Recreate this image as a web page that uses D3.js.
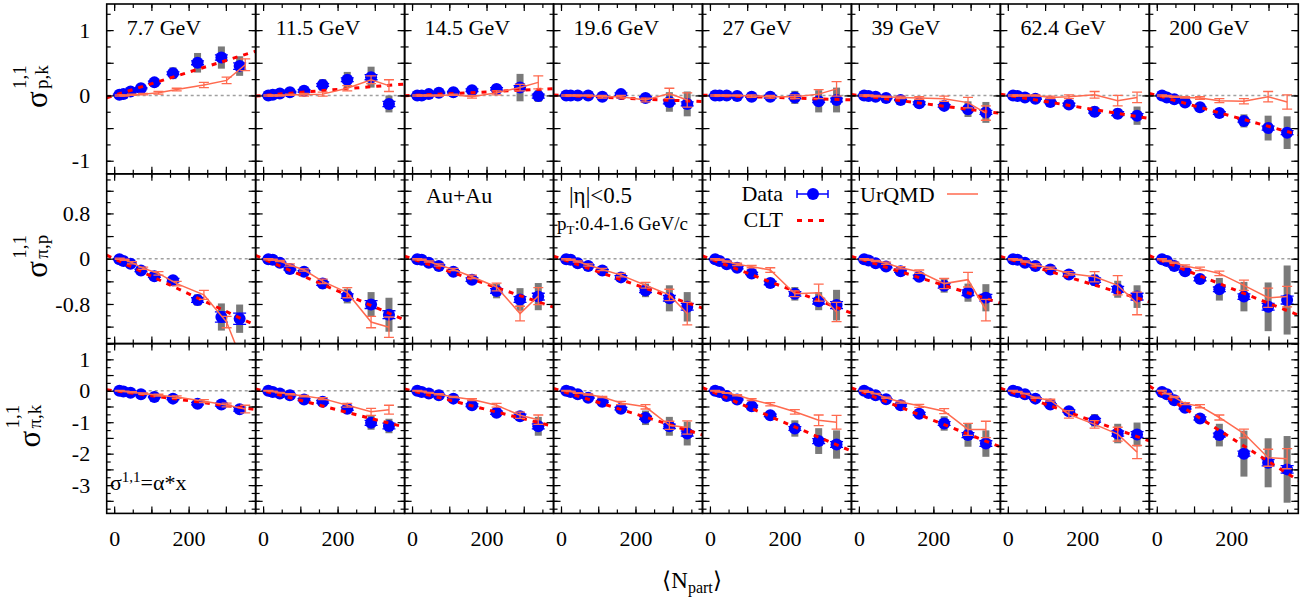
<!DOCTYPE html>
<html><head><meta charset="utf-8">
<script src="https://cdn.jsdelivr.net/npm/d3@7"></script>
<style>
html,body{margin:0;padding:0;background:#fff;}
svg{display:block;font-family:"Liberation Serif","Times New Roman",serif;}
</style></head><body><svg id="c" width="1316" height="605"></svg>
<script>
// ---------------- DATA ----------------
const energies = ["7.7 GeV","11.5 GeV","14.5 GeV","19.6 GeV","27 GeV","39 GeV","62.4 GeV","200 GeV"];
const npartData = [
  [14,25,44,72,108,158,224,288,337],
  [14,26,45,72,110,160,226,290,338],
  [14,26,45,72,111,161,227,290,339],
  [14,26,45,73,111,161,227,291,339],
  [14,26,45,73,112,162,228,292,340],
  [14,26,45,73,112,162,229,293,341],
  [14,26,46,74,114,164,233,295,347],
  [14,27,47,76,116,168,234,299,350]
];
const npartUrqmd = [
  [15,28,48,78,119,168,241,302,352],
  [14,26,45,72,110,160,226,290,338],
  [14,26,45,72,111,161,227,290,339],
  [14,26,45,73,111,161,227,291,339],
  [14,26,45,73,112,162,228,292,340],
  [14,26,45,73,112,162,229,293,341],
  [14,26,46,74,114,164,233,295,347],
  [14,27,47,76,116,168,234,299,350]
];

// sigma^{1,1}_{p,k}
const pkData = [
  [0.01,0.02,0.06,0.11,0.20,0.34,0.50,0.58,0.45],
  [0.00,0.01,0.03,0.05,0.07,0.16,0.24,0.28,-0.13],
  [0.00,0.00,0.02,0.04,0.05,0.08,0.10,0.12,-0.01],
  [0.00,0.00,0.00,0.00,-0.02,0.02,-0.04,-0.10,-0.13],
  [0.00,0.00,0.00,-0.01,-0.02,-0.02,-0.03,-0.09,-0.07],
  [0.00,-0.01,-0.02,-0.04,-0.07,-0.12,-0.16,-0.21,-0.26],
  [0.00,-0.01,-0.03,-0.05,-0.10,-0.14,-0.25,-0.28,-0.31],
  [0.00,-0.03,-0.06,-0.11,-0.18,-0.27,-0.39,-0.50,-0.57]
];
const pkStat = [
  [0.01,0.01,0.01,0.01,0.02,0.02,0.03,0.04,0.05],
  [0.01,0.01,0.01,0.01,0.02,0.02,0.03,0.04,0.04],
  [0.01,0.01,0.01,0.01,0.01,0.02,0.02,0.03,0.03],
  [0.01,0.01,0.01,0.01,0.01,0.02,0.02,0.03,0.03],
  [0.01,0.01,0.01,0.01,0.01,0.02,0.02,0.02,0.03],
  [0.01,0.01,0.01,0.01,0.01,0.02,0.02,0.02,0.03],
  [0.01,0.01,0.01,0.01,0.01,0.02,0.02,0.03,0.03],
  [0.01,0.01,0.01,0.01,0.01,0.02,0.02,0.03,0.03]
];
const pkSys = [
  [0.01,0.01,0.02,0.02,0.03,0.09,0.15,0.17,0.15],
  [0.01,0.01,0.01,0.02,0.03,0.09,0.12,0.16,0.13],
  [0.01,0.01,0.01,0.02,0.02,0.03,0.07,0.21,0.09],
  [0.01,0.01,0.01,0.01,0.02,0.02,0.04,0.15,0.19],
  [0.01,0.01,0.01,0.01,0.02,0.02,0.10,0.17,0.19],
  [0.01,0.01,0.01,0.01,0.02,0.03,0.06,0.12,0.16],
  [0.01,0.01,0.01,0.02,0.02,0.03,0.08,0.08,0.14],
  [0.01,0.01,0.01,0.02,0.03,0.04,0.10,0.19,0.25]
];
const pkAlpha = [0.00178,0.00046,0.00027,-0.00025,-0.00018,-0.00072,-0.00093,-0.00158];
const pkUrqmd = [
  [0.00,0.00,0.01,0.02,0.04,0.09,0.16,0.23,0.47],
  [0.00,0.00,0.00,0.01,0.01,0.02,0.11,0.24,0.15],
  [0.00,0.00,0.00,0.00,0.01,-0.02,0.04,0.12,0.20],
  [0.00,0.00,0.00,0.00,-0.02,-0.02,-0.07,0.03,-0.07],
  [0.00,0.00,0.00,0.00,-0.01,-0.02,-0.02,0.02,0.10],
  [0.00,0.00,-0.01,-0.02,-0.03,-0.04,-0.05,-0.11,-0.27],
  [0.00,0.00,0.00,0.00,-0.03,-0.02,0.01,-0.08,-0.03],
  [0.00,-0.01,-0.02,-0.03,-0.04,-0.08,-0.09,-0.02,-0.10]
];
const pkUrqmdErr = [
  [0.01,0.01,0.01,0.01,0.02,0.02,0.04,0.05,0.09],
  [0.01,0.01,0.01,0.01,0.02,0.03,0.04,0.06,0.09],
  [0.01,0.01,0.01,0.01,0.01,0.02,0.03,0.05,0.10],
  [0.01,0.01,0.01,0.01,0.02,0.02,0.03,0.08,0.11],
  [0.01,0.01,0.01,0.01,0.02,0.02,0.03,0.07,0.11],
  [0.01,0.01,0.01,0.01,0.02,0.02,0.04,0.08,0.11],
  [0.01,0.01,0.01,0.01,0.02,0.03,0.05,0.08,0.08],
  [0.01,0.01,0.01,0.01,0.02,0.03,0.04,0.08,0.11]
];

// sigma^{1,1}_{pi,p}
const pipData = [
  [-0.01,-0.04,-0.09,-0.21,-0.31,-0.38,-0.73,-1.03,-1.06],
  [-0.01,-0.02,-0.07,-0.18,-0.23,-0.44,-0.66,-0.81,-0.99],
  [-0.01,-0.02,-0.07,-0.13,-0.23,-0.37,-0.57,-0.72,-0.67],
  [-0.01,-0.02,-0.08,-0.13,-0.21,-0.33,-0.56,-0.70,-0.85],
  [-0.01,-0.04,-0.10,-0.16,-0.26,-0.43,-0.62,-0.75,-0.82],
  [-0.01,-0.03,-0.08,-0.14,-0.22,-0.32,-0.48,-0.60,-0.69],
  [-0.01,-0.02,-0.07,-0.13,-0.19,-0.28,-0.38,-0.54,-0.67],
  [-0.01,-0.04,-0.13,-0.22,-0.36,-0.54,-0.67,-0.85,-0.73]
];
const pipStat = [
  [0.01,0.01,0.01,0.02,0.02,0.03,0.04,0.09,0.10],
  [0.01,0.01,0.01,0.02,0.02,0.03,0.04,0.07,0.07],
  [0.01,0.01,0.01,0.02,0.02,0.03,0.04,0.05,0.06],
  [0.01,0.01,0.01,0.02,0.02,0.03,0.04,0.05,0.06],
  [0.01,0.01,0.01,0.02,0.02,0.03,0.04,0.05,0.06],
  [0.01,0.01,0.01,0.02,0.02,0.03,0.04,0.05,0.06],
  [0.01,0.01,0.01,0.02,0.02,0.03,0.04,0.05,0.06],
  [0.01,0.01,0.02,0.02,0.03,0.04,0.05,0.06,0.07]
];
const pipSys = [
  [0.01,0.01,0.02,0.02,0.03,0.04,0.10,0.24,0.25],
  [0.01,0.01,0.02,0.02,0.03,0.09,0.13,0.22,0.30],
  [0.01,0.01,0.02,0.02,0.03,0.08,0.13,0.20,0.24],
  [0.01,0.01,0.02,0.02,0.03,0.04,0.12,0.23,0.26],
  [0.01,0.01,0.02,0.02,0.03,0.04,0.12,0.16,0.27],
  [0.01,0.01,0.02,0.02,0.03,0.04,0.12,0.16,0.24],
  [0.01,0.01,0.02,0.02,0.03,0.04,0.10,0.15,0.20],
  [0.01,0.01,0.02,0.03,0.05,0.20,0.26,0.43,0.61]
];
const pipAlpha = [-0.0031,-0.00285,-0.00225,-0.0023,-0.00253,-0.00206,-0.0020,-0.00262];
const pipUrqmd = [
  [0.00,-0.02,-0.07,-0.17,-0.26,-0.44,-0.64,-1.12,-1.95],
  [-0.01,-0.02,-0.04,-0.11,-0.20,-0.40,-0.60,-1.12,-1.21],
  [-0.01,-0.02,-0.05,-0.11,-0.19,-0.32,-0.50,-0.97,-0.66],
  [-0.01,-0.02,-0.05,-0.11,-0.19,-0.29,-0.47,-0.64,-0.97],
  [-0.01,-0.02,-0.05,-0.10,-0.14,-0.20,-0.62,-0.60,-0.94],
  [-0.01,-0.02,-0.04,-0.08,-0.16,-0.23,-0.44,-0.37,-0.91],
  [-0.01,-0.02,-0.05,-0.11,-0.17,-0.26,-0.32,-0.47,-0.79],
  [-0.01,-0.04,-0.07,-0.13,-0.18,-0.26,-0.47,-0.69,-0.67]
];
const pipUrqmdErr = [
  [0.01,0.01,0.02,0.02,0.03,0.04,0.08,0.10,0.20],
  [0.01,0.01,0.01,0.02,0.02,0.04,0.09,0.10,0.18],
  [0.01,0.01,0.01,0.02,0.02,0.03,0.07,0.13,0.15],
  [0.01,0.01,0.01,0.02,0.02,0.03,0.05,0.10,0.20],
  [0.01,0.01,0.01,0.02,0.02,0.04,0.05,0.15,0.17],
  [0.01,0.01,0.01,0.02,0.02,0.03,0.09,0.13,0.19],
  [0.01,0.01,0.01,0.02,0.02,0.03,0.09,0.17,0.20],
  [0.01,0.01,0.01,0.02,0.03,0.04,0.09,0.17,0.18]
];

// sigma^{1,1}_{pi,k}
const pikData = [
  [0.00,-0.02,-0.06,-0.11,-0.20,-0.25,-0.41,-0.44,-0.59],
  [0.00,-0.04,-0.09,-0.14,-0.28,-0.35,-0.57,-1.02,-1.12],
  [0.00,-0.04,-0.09,-0.14,-0.25,-0.46,-0.70,-0.81,-1.13],
  [0.00,-0.04,-0.11,-0.22,-0.35,-0.57,-0.86,-1.13,-1.36],
  [0.00,-0.04,-0.17,-0.28,-0.49,-0.78,-1.20,-1.60,-1.71],
  [0.00,-0.07,-0.14,-0.27,-0.46,-0.73,-1.04,-1.41,-1.68],
  [0.00,-0.04,-0.11,-0.25,-0.44,-0.65,-0.94,-1.36,-1.39],
  [-0.04,-0.11,-0.30,-0.54,-0.88,-1.41,-2.00,-2.29,-2.50]
];
const pikStat = [
  [0.01,0.01,0.01,0.02,0.02,0.03,0.04,0.05,0.06],
  [0.01,0.01,0.02,0.02,0.03,0.04,0.05,0.08,0.09],
  [0.01,0.01,0.02,0.02,0.03,0.04,0.05,0.07,0.08],
  [0.01,0.01,0.02,0.02,0.03,0.04,0.05,0.07,0.08],
  [0.01,0.01,0.02,0.02,0.03,0.04,0.06,0.08,0.09],
  [0.01,0.01,0.02,0.02,0.03,0.04,0.06,0.08,0.09],
  [0.01,0.01,0.02,0.02,0.03,0.04,0.06,0.08,0.09],
  [0.02,0.02,0.03,0.04,0.05,0.06,0.08,0.10,0.12]
];
const pikSys = [
  [0.01,0.01,0.02,0.02,0.03,0.04,0.05,0.06,0.10],
  [0.01,0.01,0.02,0.02,0.03,0.04,0.10,0.22,0.23],
  [0.01,0.01,0.02,0.02,0.03,0.05,0.13,0.13,0.30],
  [0.01,0.01,0.02,0.03,0.04,0.06,0.23,0.30,0.38],
  [0.01,0.01,0.02,0.03,0.04,0.06,0.26,0.41,0.45],
  [0.01,0.01,0.02,0.03,0.04,0.06,0.23,0.37,0.42],
  [0.01,0.01,0.02,0.03,0.04,0.06,0.20,0.31,0.38],
  [0.01,0.02,0.03,0.05,0.08,0.36,0.73,0.78,1.06]
];
const pikAlpha = [-0.00157,-0.00304,-0.00298,-0.00369,-0.00505,-0.0047,-0.0042,-0.0075];
const pikUrqmd = [
  [0.00,-0.02,-0.05,-0.09,-0.14,-0.20,-0.33,-0.45,-0.58],
  [0.00,-0.02,-0.06,-0.11,-0.17,-0.25,-0.46,-0.67,-0.60],
  [0.00,-0.02,-0.06,-0.11,-0.20,-0.28,-0.46,-0.78,-0.92],
  [0.00,-0.02,-0.07,-0.12,-0.20,-0.39,-0.51,-1.10,-1.17],
  [0.00,-0.03,-0.07,-0.14,-0.28,-0.43,-0.67,-0.94,-1.00],
  [0.00,-0.04,-0.09,-0.22,-0.36,-0.48,-0.65,-1.23,-1.23],
  [0.00,-0.03,-0.09,-0.22,-0.30,-0.75,-1.07,-1.38,-1.95],
  [0.00,-0.09,-0.20,-0.41,-0.49,-0.85,-1.36,-2.13,-2.16]
];
const pikUrqmdErr = [
  [0.01,0.01,0.02,0.02,0.03,0.04,0.05,0.06,0.12],
  [0.01,0.01,0.01,0.02,0.02,0.03,0.06,0.11,0.14],
  [0.01,0.01,0.01,0.02,0.02,0.03,0.06,0.10,0.15],
  [0.01,0.01,0.01,0.02,0.02,0.05,0.07,0.13,0.21],
  [0.01,0.01,0.01,0.02,0.03,0.05,0.07,0.17,0.22],
  [0.01,0.01,0.01,0.02,0.03,0.05,0.08,0.19,0.26],
  [0.01,0.01,0.01,0.02,0.03,0.12,0.12,0.22,0.21],
  [0.01,0.01,0.02,0.03,0.05,0.08,0.14,0.27,0.32]
];

const yTickLabels = [[-1,0,1],[-0.8,0,0.8],[-3,-2,-1,0,1]];
const xTickLabels = [0,200];

// ---------------- LAYOUT ----------------
const svg = d3.select("#c");
const left = 106.7, colW = 148.95;
const top0 = 4, rowH = 169.8;
const xDomain = [-20, 380];
const C = {blue:"#0000ff", sys:"#7a7a7a", clt:"#ff0000", urq:"#ff6a4f", zero:"#a0a0a0"};

const rows = [
  {data:pkData, stat:pkStat, sys:pkSys, alpha:pkAlpha, urq:pkUrqmd, urqErr:pkUrqmdErr,
   domain:[-1.2,1.4], minor:0.25, major:0.5, sub:"p,k", labelX:47},
  {data:pipData, stat:pipStat, sys:pipSys, alpha:pipAlpha, urq:pipUrqmd, urqErr:pipUrqmdErr,
   domain:[-1.5,1.5], minor:0.2, major:0.4, sub:"π,p", labelX:47},
  {data:pikData, stat:pikStat, sys:pikSys, alpha:pikAlpha, urq:pikUrqmd, urqErr:pikUrqmdErr,
   domain:[-3.9,1.5], minor:0.25, major:0.5, sub:"π,k", labelX:40}
];

function tickVals(dom, step){
  const out=[]; const s=Math.ceil(dom[0]/step-1e-9), e=Math.floor(dom[1]/step+1e-9);
  for(let i=s;i<=e;i++) out.push(+(i*step).toFixed(6));
  return out;
}

rows.forEach((row, r) => {
  const py = top0 + r*rowH;
  const y = d3.scaleLinear().domain(row.domain).range([rowH, 0]);
  for (let c = 0; c < 8; c++) {
    const px = left + c*colW;
    const x = d3.scaleLinear().domain(xDomain).range([0, colW]);
    const g = svg.append("g").attr("transform", `translate(${px},${py})`);
    const cid = `clip${r}_${c}`;
    g.append("clipPath").attr("id", cid).append("rect").attr("width", colW).attr("height", rowH);
    const pg = g.append("g").attr("clip-path", `url(#${cid})`);

    // zero line
    pg.append("line").attr("x1", 0).attr("x2", colW).attr("y1", y(0)).attr("y2", y(0))
      .attr("stroke", C.zero).attr("stroke-width", 1.5).attr("stroke-dasharray", "3,3");

    const npd = npartData[c], npu = npartUrqmd[c];
    const pts = row.data[c].map((v,i)=>({x:npd[i], v, s:row.stat[c][i], sy:row.sys[c][i]}));

    // systematic bars
    pg.selectAll(".sys").data(pts).enter().append("rect")
      .attr("x", d=>x(d.x)-3.5).attr("width", 7)
      .attr("y", d=>y(d.v+d.sy)).attr("height", d=>Math.max(0.5, y(d.v-d.sy)-y(d.v+d.sy)))
      .attr("fill", C.sys);

    // stat errors
    const se = pg.append("g").attr("stroke", C.blue).attr("stroke-width", 1.3);
    pts.forEach(d=>{
      const X=x(d.x), y1=y(d.v+d.s), y2=y(d.v-d.s);
      se.append("line").attr("x1",X).attr("x2",X).attr("y1",y1).attr("y2",y2);
      se.append("line").attr("x1",X-6.5).attr("x2",X+6.5).attr("y1",y1).attr("y2",y1);
      se.append("line").attr("x1",X-6.5).attr("x2",X+6.5).attr("y1",y2).attr("y2",y2);
    });
    // data points
    pg.selectAll(".pt").data(pts).enter().append("circle")
      .attr("cx", d=>x(d.x)).attr("cy", d=>y(d.v)).attr("r", 6).attr("fill", C.blue);

    // CLT fit line
    const a = row.alpha[c];
    pg.append("path").datum(xDomain)
      .attr("d", d3.line().x(d=>x(d)).y(d=>y(a*d)))
      .attr("fill","none").attr("stroke", C.clt).attr("stroke-width", 3).attr("stroke-dasharray","5,6");

    // UrQMD
    const up = row.urq[c].map((v,i)=>({x:npu[i], v, e:row.urqErr[c][i]}));
    pg.append("path").datum(up)
      .attr("d", d3.line().x(d=>x(d.x)).y(d=>y(d.v)))
      .attr("fill","none").attr("stroke", C.urq).attr("stroke-width", 1.5);
    const ue = pg.append("g").attr("stroke", C.urq).attr("stroke-width", 1.3);
    up.forEach(d=>{
      const X=x(d.x), y1=y(d.v+d.e), y2=y(d.v-d.e);
      ue.append("line").attr("x1",X).attr("x2",X).attr("y1",y1).attr("y2",y2);
      ue.append("line").attr("x1",X-5).attr("x2",X+5).attr("y1",y1).attr("y2",y1);
      ue.append("line").attr("x1",X-5).attr("x2",X+5).attr("y1",y2).attr("y2",y2);
    });

    // ticks on all four sides (inward)
    const yMin = tickVals(row.domain, row.minor), yMaj = tickVals(row.domain, row.major);
    const xMin = tickVals(xDomain, 50), xMaj = tickVals(xDomain, 100);
    const tk = (axis, vals, len, tr) => {
      const a = g.append("g").attr("transform", tr)
        .call(axis.tickValues(vals).tickSize(-len).tickFormat(""));
      a.select(".domain").remove();
      a.selectAll("line").attr("stroke", "#000").attr("stroke-width", 1.2);
    };
    tk(d3.axisLeft(y), yMin, 4, "translate(0,0)");
    tk(d3.axisLeft(y), yMaj, 7, "translate(0,0)");
    tk(d3.axisRight(y), yMin, 4, `translate(${colW},0)`);
    tk(d3.axisRight(y), yMaj, 7, `translate(${colW},0)`);
    tk(d3.axisTop(x), xMin, 4, "translate(0,0)");
    tk(d3.axisTop(x), xMaj, 7, "translate(0,0)");
    tk(d3.axisBottom(x), xMin, 4, `translate(0,${rowH})`);
    tk(d3.axisBottom(x), xMaj, 7, `translate(0,${rowH})`);

    // frame
    g.append("rect").attr("width", colW).attr("height", rowH)
      .attr("fill","none").attr("stroke","#000").attr("stroke-width",1.6);

    // y tick labels
    if (c === 0) {
      const ya = g.append("g").call(d3.axisLeft(y).tickValues(yTickLabels[r]).tickSize(0).tickPadding(16.5)
        .tickFormat(d=>String(d)));
      ya.select(".domain").remove();
      ya.selectAll("text").attr("font-size", 22).attr("font-family", "Liberation Serif").attr("fill","#000");
    }
    // x tick labels
    if (r === 2) {
      const xa = g.append("g").attr("transform", `translate(0,${rowH})`)
        .call(d3.axisBottom(x).tickValues(xTickLabels).tickSize(0).tickFormat(d=>String(d)));
      xa.select(".domain").remove();
      xa.selectAll("text").attr("y", 33).attr("dy", null)
        .attr("font-size", 22).attr("font-family", "Liberation Serif").attr("fill","#000");
    }
    // energy label
    if (r === 0) {
      g.append("text").attr("x", 20).attr("y", 31).attr("font-size", 22).text(energies[c]);
    }
  }

  // y-axis title: sigma^{1,1}_{sub}
  const cy = py + rowH/2 + 19;
  const lg = svg.append("g").attr("transform", `translate(${row.labelX},${cy}) rotate(-90)`);
  lg.append("text").attr("x", 0).attr("y", 0).attr("font-size", 31).text("σ");
  lg.append("text").attr("x", 19).attr("y", -21).attr("font-size", 19).text("1,1");
  lg.append("text").attr("x", 19).attr("y", 1).attr("font-size", 19).text(row.sub);
});

// ---------------- LEGEND / ANNOTATIONS ----------------
svg.append("text").attr("x", 426).attr("y", 203).attr("font-size", 22).text("Au+Au");
svg.append("text").attr("x", 569).attr("y", 203).attr("font-size", 23).text("|η|<0.5");
const pt = svg.append("text").attr("x", 557).attr("y", 230).attr("font-size", 19);
pt.append("tspan").text("p");
pt.append("tspan").attr("font-size", 13).attr("dy", 4).text("T");
pt.append("tspan").attr("dy", -4).text(":0.4-1.6 GeV/c");

svg.append("text").attr("x", 783).attr("y", 201).attr("font-size", 22).attr("text-anchor","end").text("Data");
svg.append("text").attr("x", 783).attr("y", 227).attr("font-size", 22).attr("text-anchor","end").text("CLT");
const lgD = svg.append("g").attr("stroke", C.blue).attr("stroke-width", 1.5);
lgD.append("line").attr("x1", 797).attr("x2", 828).attr("y1", 194).attr("y2", 194);
lgD.append("line").attr("x1", 797).attr("x2", 797).attr("y1", 190).attr("y2", 198);
lgD.append("line").attr("x1", 828).attr("x2", 828).attr("y1", 190).attr("y2", 198);
svg.append("circle").attr("cx", 813).attr("cy", 194).attr("r", 6).attr("fill", C.blue);
svg.append("line").attr("x1", 797).attr("x2", 830).attr("y1", 220.5).attr("y2", 220.5)
  .attr("stroke", C.clt).attr("stroke-width", 3).attr("stroke-dasharray", "5,6");

svg.append("text").attr("x", 860).attr("y", 202).attr("font-size", 22).text("UrQMD");
svg.append("line").attr("x1", 947).attr("x2", 978).attr("y1", 194).attr("y2", 194)
  .attr("stroke", C.urq).attr("stroke-width", 1.5);

const fl = svg.append("text").attr("x", 110).attr("y", 490).attr("font-size", 22);
fl.append("tspan").text("σ");
fl.append("tspan").attr("font-size", 15).attr("dy", -8).text("1,1");
fl.append("tspan").attr("dy", 8).text("=α*x");

const xt = svg.append("text").attr("x", 692).attr("y", 588).attr("font-size", 23).attr("text-anchor","middle");
xt.append("tspan").text("⟨N");
xt.append("tspan").attr("font-size", 16).attr("dy", 5).text("part");
xt.append("tspan").attr("dy", -5).text("⟩");
</script></body></html>
